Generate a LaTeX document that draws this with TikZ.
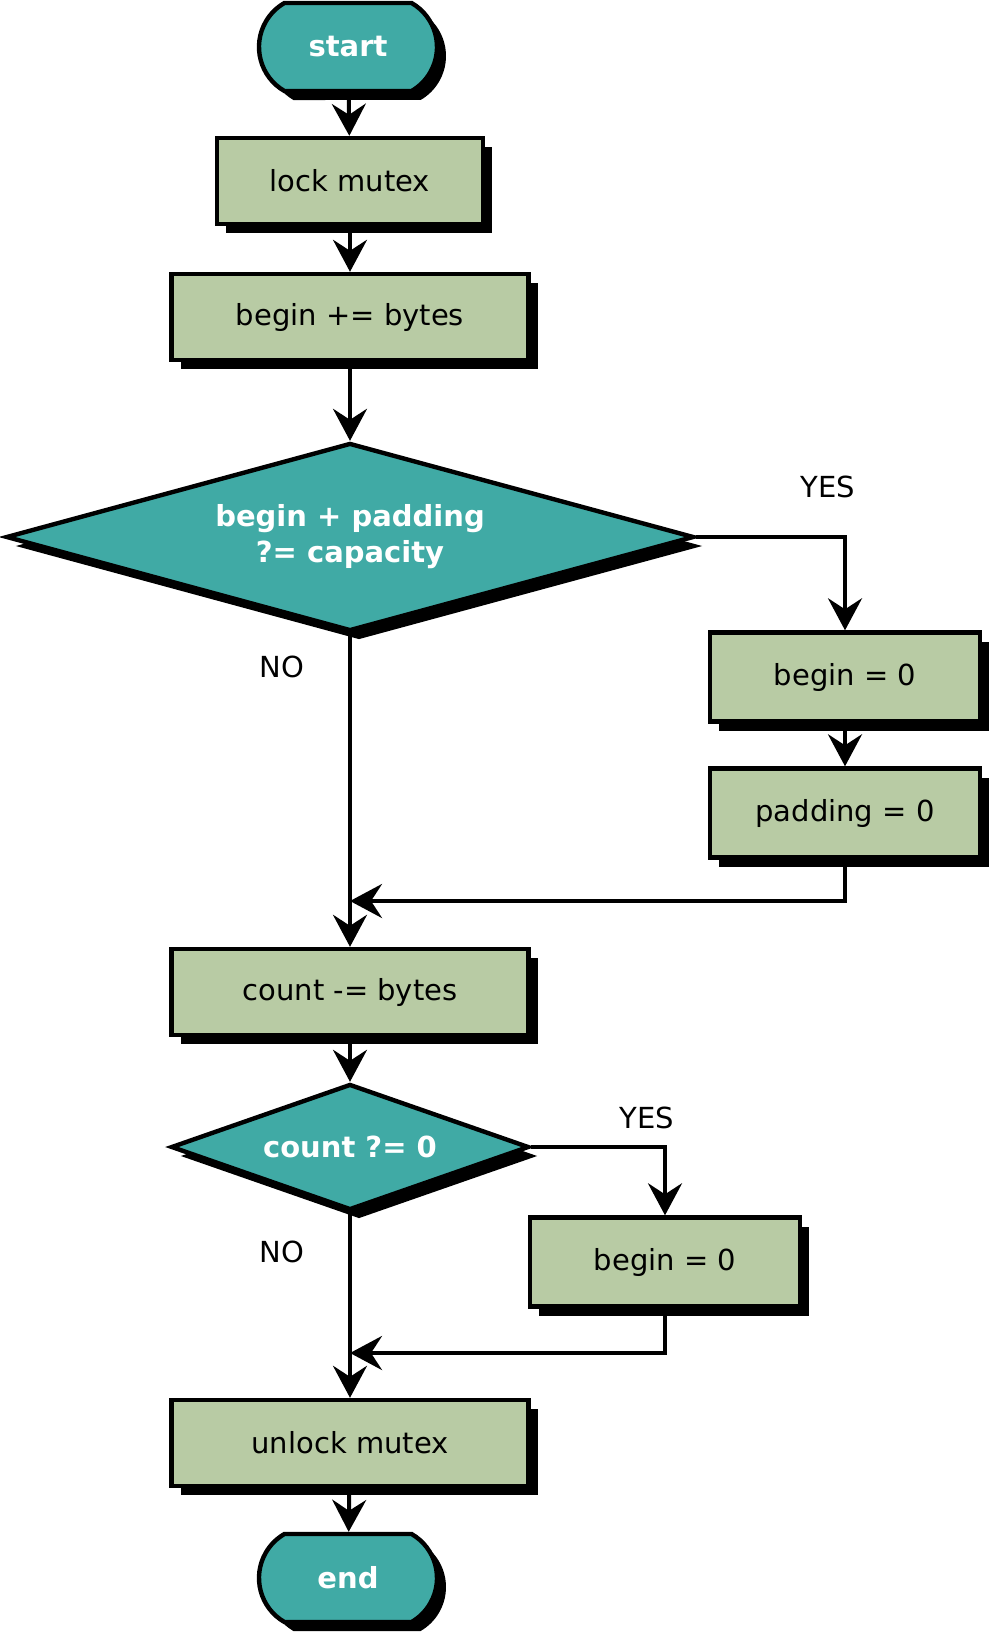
\documentclass[tikz,border=0pt]{standalone}
\usepackage{fontspec}
\setmainfont{DejaVu Sans}
\usepackage{tikz}
\usetikzlibrary{shapes.geometric,shapes.misc,shadows,arrows.meta}
\definecolor{teal}{RGB}{64,170,165}
\definecolor{sage}{RGB}{184,203,164}
\tikzset{
  shade/.style={drop shadow={shadow xshift=4.5pt,shadow yshift=-4.5pt,fill=black,opacity=1}},
  terminal/.style={rounded rectangle,rounded rectangle arc length=120,draw,line width=2.2pt,fill=teal,
    text=white,font=\bfseries,minimum width=89pt,minimum height=44pt,inner sep=0pt,shade},
  process/.style={rectangle,draw,line width=2.2pt,fill=sage,minimum height=43pt,inner sep=0pt,shade},
  decision/.style={diamond,draw,line width=2.2pt,fill=teal,text=white,font=\bfseries,
    align=center,inner sep=0pt,shade},
  flow/.style={line width=2pt,-{Stealth[length=16pt,width=17pt,inset=5.5pt]}},
  answer/.style={inner sep=0pt}
}
\begin{document}
\fontsize{14.5}{18}\selectfont
\begin{tikzpicture}[x=0.5pt,y=-0.5pt]
  \useasboundingbox (0,0) rectangle (990,1633);
  \node[terminal] (start) at (348,47) {start};
  \node[process,minimum width=133pt] (lock) at (350,181) {lock mutex};
  \node[process,minimum width=178.5pt] (advance) at (350,317) {begin += bytes};
  \node[decision,aspect=3.66,minimum width=344pt,minimum height=94pt] (wrap) at (350,537)
    {begin + padding\\?= capacity};
  \node[process,minimum width=135pt,minimum height=44.5pt] (clearbegin) at (845,677) {begin = 0};
  \node[process,minimum width=135pt,minimum height=44.5pt] (clearpad) at (845,813) {padding = 0};
  \node[process,minimum width=178.5pt] (consume) at (350,992) {count -= bytes};
  \node[decision,aspect=2.84,minimum width=179pt,minimum height=63pt] (empty) at (350,1147) {count ?= 0};
  \node[process,minimum width=135pt,minimum height=44.5pt] (reset) at (665,1262) {begin = 0};
  \node[process,minimum width=178.5pt] (unlock) at (350,1443) {unlock mutex};
  \node[terminal] (end) at (348,1578) {end};
  \coordinate (join1) at (350,901);
  \coordinate (join2) at (350,1353);
  \node[answer] (yes1) at (828,487) {YES};
  \node[answer] (no1) at (282,667) {NO};
  \node[answer] (yes2) at (647,1118) {YES};
  \node[answer] (no2) at (282,1252) {NO};
  \draw[flow] (start) -- (lock);
  \draw[flow] (lock) -- (advance);
  \draw[flow] (advance) -- (wrap);
  \draw[flow] (wrap.east) -| (clearbegin.north);
  \draw[flow] (clearbegin) -- (clearpad);
  \draw[flow] (clearpad.south) |- (join1);
  \draw[flow] (wrap.south) -- (consume.north);
  \draw[flow] (consume) -- (empty);
  \draw[flow] (empty.east) -| (reset.north);
  \draw[flow] (reset.south) |- (join2);
  \draw[flow] (empty.south) -- (unlock.north);
  \draw[flow] (unlock) -- (end);
\end{tikzpicture}
\end{document}
